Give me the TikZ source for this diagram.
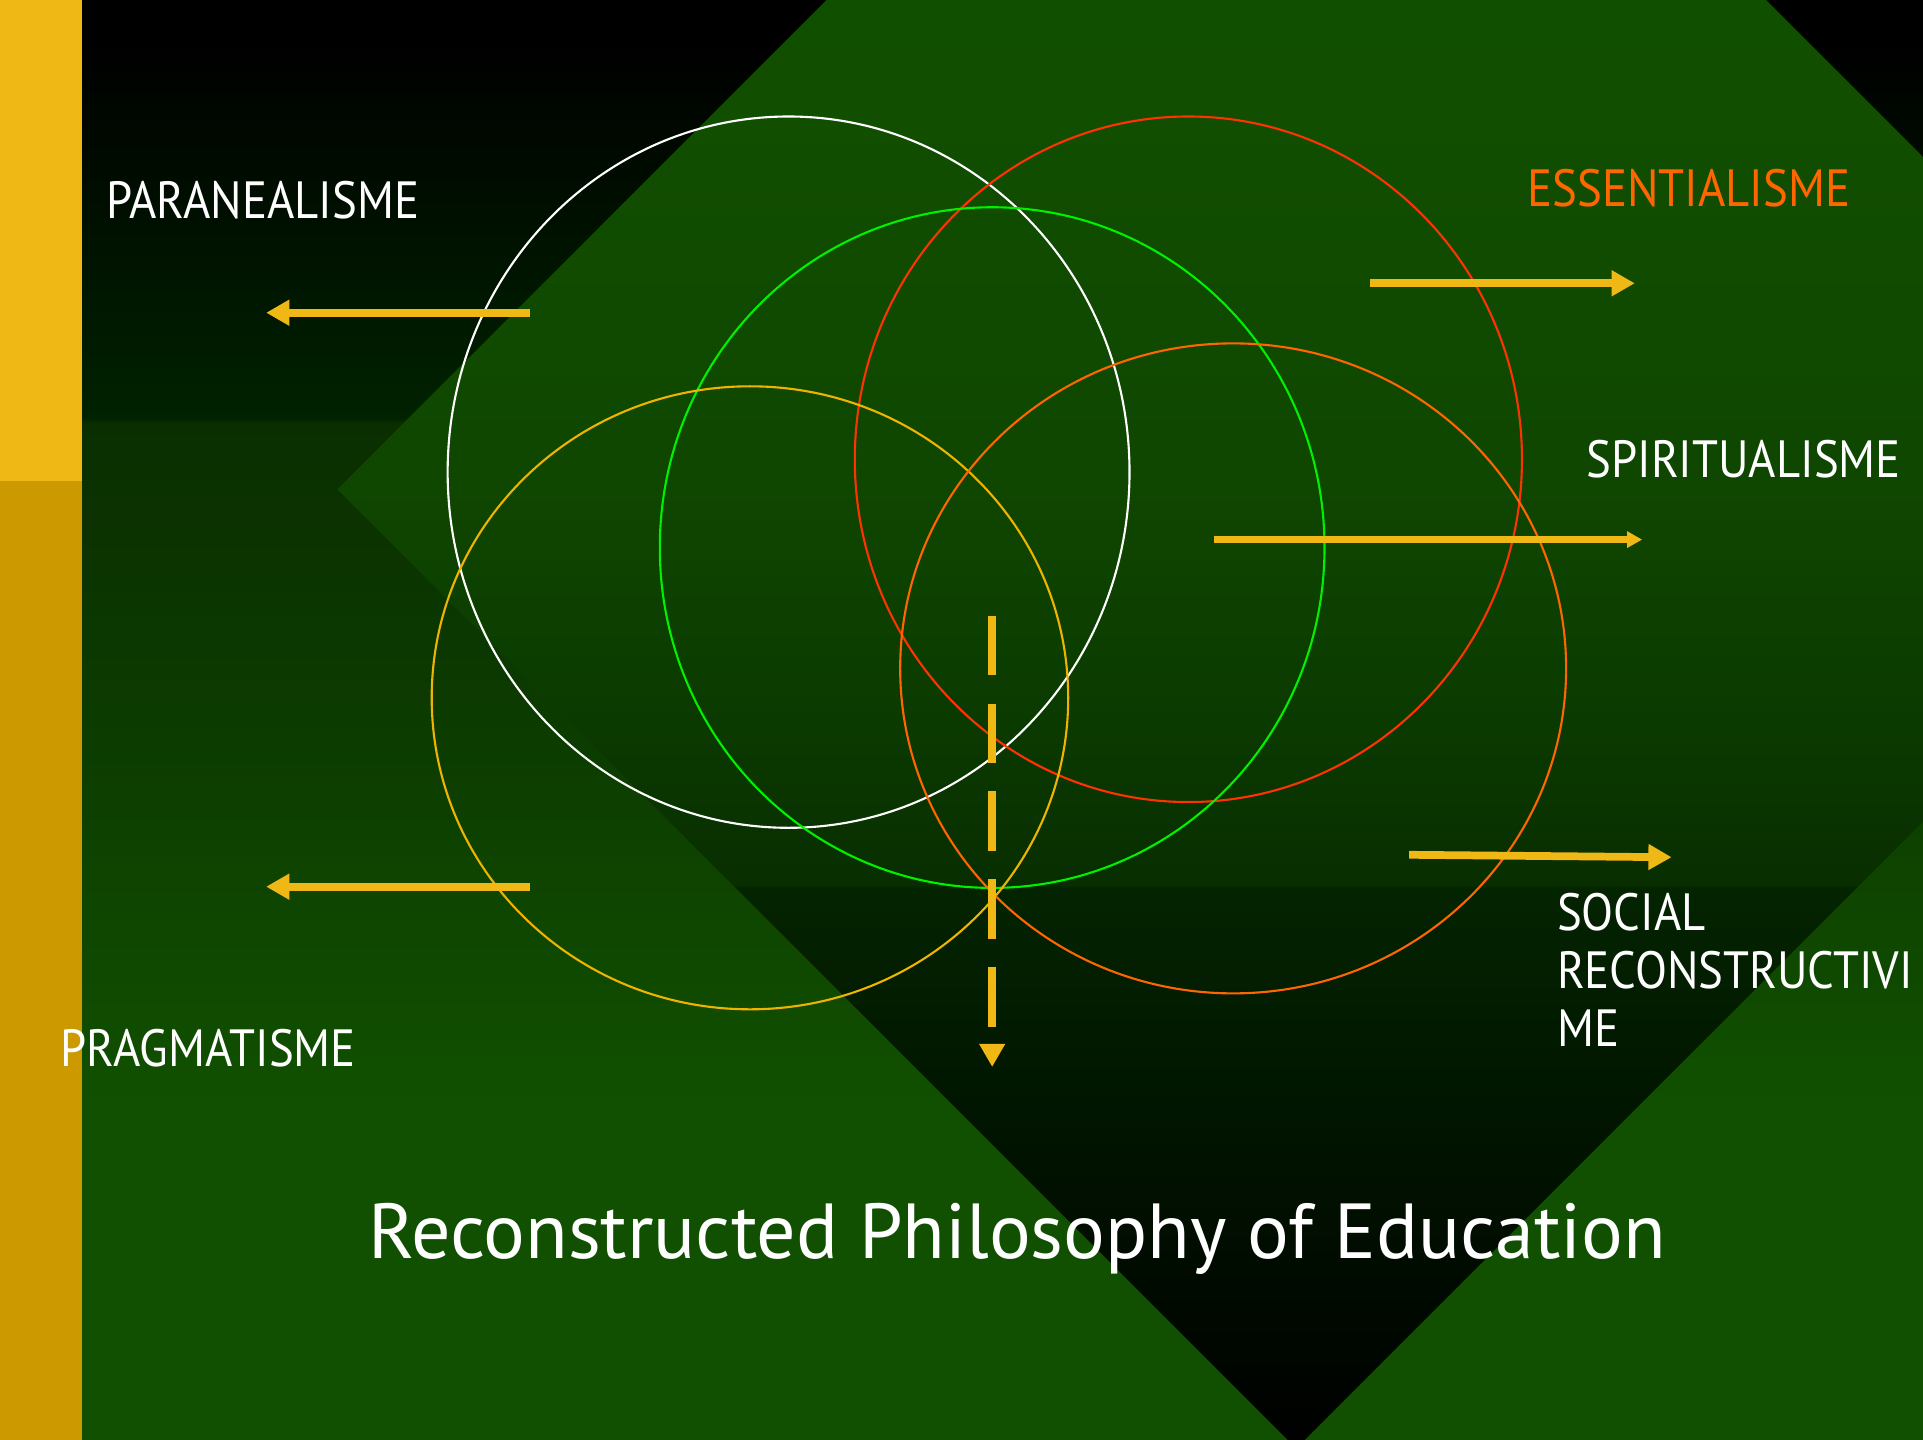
\documentclass[tikz,border=0pt]{standalone}
\usepackage{fontspec}
\setmainfont{PT Sans}
\newfontfamily\capfont{PT Sans}[FakeStretch=0.893]
\usetikzlibrary{arrows.meta}

\definecolor{goldbar}{HTML}{F0B814}
\definecolor{golddark}{HTML}{CC9900}
\definecolor{redring}{HTML}{FF3300}
\definecolor{greenring}{HTML}{00F000}
\definecolor{orangering}{HTML}{FF6600}
\definecolor{yellowring}{HTML}{F0B400}
% slide background, black at the top
\definecolor{bgA}{HTML}{000000}
\definecolor{bgB}{HTML}{002200}
\definecolor{bgC}{HTML}{0A2E00}
\definecolor{bgD}{HTML}{0C3C00}
\definecolor{bgE}{HTML}{115000}
\pgfdeclareverticalshading{slidebg}{100bp}{color(0bp)=(bgE); color(36.7bp)=(bgE); color(49.4bp)=(bgD); color(60.3bp)=(bgC); color(60.5bp)=(bgB); color(73.5bp)=(bgA); color(100bp)=(bgA)}
% the big square, green at the top
\definecolor{dmA}{HTML}{125200}
\definecolor{dmB}{HTML}{114E00}
\definecolor{dmC}{HTML}{0F4600}
\definecolor{dmD}{HTML}{0B3A00}
\definecolor{dmE}{HTML}{082E00}
\definecolor{dmF}{HTML}{042400}
\definecolor{dmG}{HTML}{011600}
\pgfdeclareverticalshading{diamondbg}{100bp}{color(0bp)=(black); color(25bp)=(black); color(34bp)=(dmG); color(39.6bp)=(dmF); color(39.7bp)=(dmE); color(43.9bp)=(dmD); color(50bp)=(dmC); color(59.6bp)=(dmB); color(75bp)=(dmA); color(100bp)=(dmA)}

\begin{document}
\begin{tikzpicture}[x=0.12264mm, y=-0.12264mm, >={Triangle[length=6.6pt,width=7pt]},
    ring/.style={line width=0.6pt},
    goldline/.style={draw=goldbar, line width=2.2pt},
    caption/.style={text=white, inner sep=0pt, font=\capfont\fontsize{14.9pt}{16.5pt}\selectfont}]
\useasboundingbox (0,0) rectangle (1568,1174);
\clip (0,0) rectangle (1568,1174);
\shade[shading=slidebg] (0,0) rectangle (1568,1174);
\shade[shading=diamondbg] (275,399) -- (1057,-383) -- (1839,399) -- (1057,1181) -- cycle;
\fill[goldbar] (0,0) rectangle (67,392);
\fill[golddark] (0,392) rectangle (67,1174);

% the five rings
\draw[ring, white] (643,385) ellipse (278 and 290);
\draw[ring, redring] (969,374.5) ellipse (272 and 279.5);
\draw[ring, greenring] (809,446.5) ellipse (271 and 277.5);
\draw[ring, yellowring] (611.5,569) ellipse (259.5 and 254);
\draw[ring, orangering] (1005.5,545) ellipse (271.5 and 265);

\coordinate (paranTail) at (432,255);
\coordinate (paranHead) at (217,255);
\coordinate (pragTail) at (432,723);
\coordinate (pragHead) at (217,723);
\coordinate (essTail) at (1117,231);
\coordinate (essHead) at (1333,231);
\coordinate (spirTail) at (990,440);
\coordinate (spirHead) at (1339,440);
\coordinate (socTail) at (1149,697);
\coordinate (socHead) at (1363,699);
\coordinate (downTail) at (809,502);
\coordinate (downHead) at (809,870);

\draw[goldline, ->] (paranTail) -- (paranHead);
\draw[goldline, ->] (pragTail) -- (pragHead);
\draw[goldline, ->] (essTail) -- (essHead);
\draw[goldline, -{Triangle[length=4.3pt,width=4.5pt]}] (spirTail) -- (spirHead);
\draw[goldline, ->] (socTail) -- (socHead);
\draw[goldline, ->, dash pattern=on 17pt off 8pt] (downTail) -- (downHead);

\node[caption, anchor=base west] (paran) at (86,178) {PARANEALISME};
\node[caption, anchor=base west, text=orangering] (essen) at (1245,168) {ESSENTIALISME};
\node[caption, anchor=base west] (spirit) at (1293,389) {SPIRITUALISME};
\node[caption, anchor=north west, align=left] (social) at (1269,728) {SOCIAL\\RECONSTRUCTIVI\\ME};
\node[caption, anchor=base west] (pragma) at (49,870) {PRAGMATISME};
\node[text=white, inner sep=0pt, anchor=base west, font=\fontsize{22.2pt}{26pt}\selectfont] (title) at (300,1026) {Reconstructed Philosophy of Education};
\end{tikzpicture}
\end{document}
